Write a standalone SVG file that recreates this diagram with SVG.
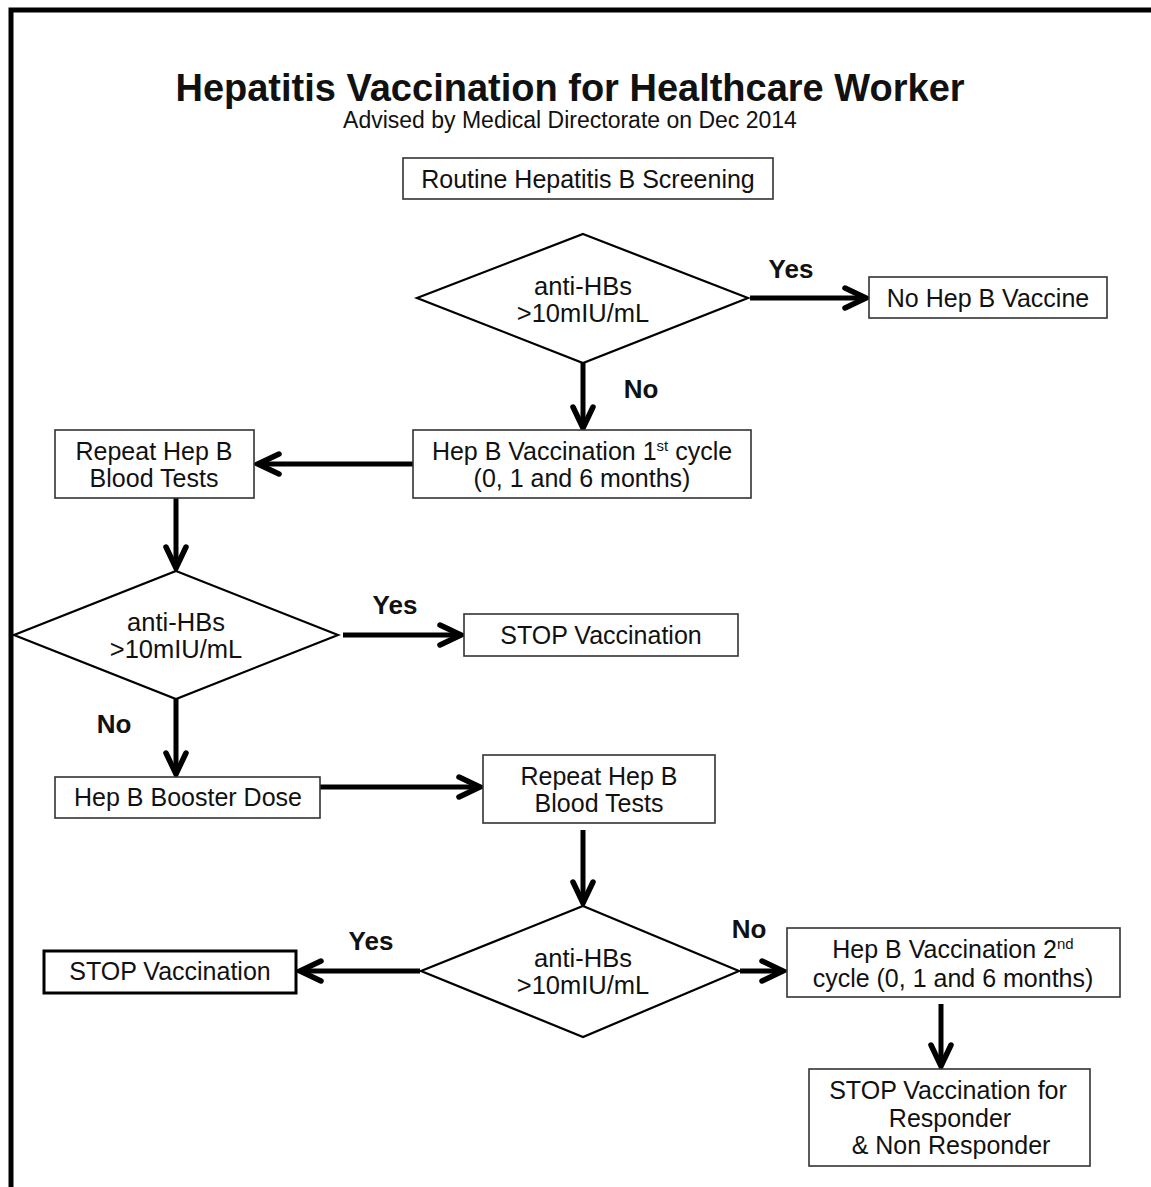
<svg xmlns="http://www.w3.org/2000/svg" width="1151" height="1187" viewBox="0 0 1151 1187">
<defs>
<style>
text{font-family:"Liberation Sans",Arial,sans-serif;fill:#111;text-anchor:middle}
.t{font-size:25px}
.d{font-size:25.5px}
.lbl{font-size:26px;font-weight:bold}
.box{fill:#fff;stroke:#333;stroke-width:1.6}
.dia{fill:#fff;stroke:#000;stroke-width:2.2}
.arr{stroke:#000;stroke-width:5;fill:none;marker-end:url(#ah)}
</style>
<marker id="ah" markerUnits="userSpaceOnUse" markerWidth="40" markerHeight="40" refX="0" refY="0" orient="auto" overflow="visible">
<path d="M-21,-10 L0,0 L-21,10" fill="none" stroke="#000" stroke-width="5.5" stroke-linecap="round" stroke-linejoin="miter"/>
</marker>
</defs>
<rect width="1151" height="1187" fill="#fff"/>
<path d="M11,1187 V10 H1151" fill="none" stroke="#000" stroke-width="5"/>
<g id="title">
<text x="570" y="101" style="font-size:38px;font-weight:bold">Hepatitis Vaccination for Healthcare Worker</text>
<text x="570" y="128" style="font-size:23px">Advised by Medical Directorate on Dec 2014</text>
</g>
<g id="connectors">
<line class="arr" x1="750" y1="298" x2="866" y2="298"/>
<line class="arr" x1="583" y1="363" x2="583" y2="428"/>
<line class="arr" x1="413" y1="464" x2="258" y2="464"/>
<line class="arr" x1="176" y1="498" x2="176" y2="568"/>
<line class="arr" x1="343" y1="635" x2="461" y2="635"/>
<line class="arr" x1="176" y1="699" x2="176" y2="774"/>
<line class="arr" x1="320" y1="787" x2="480" y2="787"/>
<line class="arr" x1="583" y1="830" x2="583" y2="903"/>
<line class="arr" x1="420" y1="971" x2="300" y2="971"/>
<line class="arr" x1="740" y1="971" x2="783" y2="971"/>
<line class="arr" x1="941" y1="1004" x2="941" y2="1066"/>
<text class="lbl" x="791" y="278">Yes</text>
<text class="lbl" x="641" y="398">No</text>
<text class="lbl" x="395" y="614">Yes</text>
<text class="lbl" x="114" y="733">No</text>
<text class="lbl" x="371" y="950">Yes</text>
<text class="lbl" x="749" y="938">No</text>
</g>
<g id="n-routine">
<rect class="box" x="403" y="158" width="370" height="41"/>
<text class="t" x="588" y="188">Routine Hepatitis B Screening</text>
</g>
<g id="n-dec1">
<polygon class="dia" points="583,234 748,298 583,363 417,298"/>
<text class="d" x="583" y="295">anti-HBs</text>
<text class="d" x="583" y="322">&gt;10mIU/mL</text>
</g>
<g id="n-novaccine">
<rect class="box" x="869" y="277" width="238" height="41"/>
<text class="t" x="988" y="307">No Hep B Vaccine</text>
</g>
<g id="n-cycle1">
<rect class="box" x="413" y="430" width="338" height="68"/>
<text class="t" x="582" y="460">Hep B Vaccination 1<tspan style="font-size:15px" dy="-9">st</tspan><tspan dy="9"> cycle</tspan></text>
<text class="t" x="582" y="487">(0, 1 and 6 months)</text>
</g>
<g id="n-repeat1">
<rect class="box" x="55" y="430" width="199" height="68"/>
<text class="t" x="154" y="460">Repeat Hep B</text>
<text class="t" x="154" y="487">Blood Tests</text>
</g>
<g id="n-dec2">
<polygon class="dia" points="176,571 338,635 176,699 14,635"/>
<text class="d" x="176" y="631">anti-HBs</text>
<text class="d" x="176" y="658">&gt;10mIU/mL</text>
</g>
<g id="n-stop1">
<rect class="box" x="464" y="614" width="274" height="42"/>
<text class="t" x="601" y="644">STOP Vaccination</text>
</g>
<g id="n-booster">
<rect class="box" x="55" y="777" width="265" height="41"/>
<text class="t" x="188" y="806">Hep B Booster Dose</text>
</g>
<g id="n-repeat2">
<rect class="box" x="483" y="755" width="232" height="68"/>
<text class="t" x="599" y="785">Repeat Hep B</text>
<text class="t" x="599" y="812">Blood Tests</text>
</g>
<g id="n-dec3">
<polygon class="dia" points="583,906 739,971 583,1037 421,971"/>
<text class="d" x="583" y="967">anti-HBs</text>
<text class="d" x="583" y="994">&gt;10mIU/mL</text>
</g>
<g id="n-stop2">
<rect x="44" y="951" width="252" height="42" fill="#fff" stroke="#000" stroke-width="3"/>
<text class="t" x="170" y="980">STOP Vaccination</text>
</g>
<g id="n-cycle2">
<rect class="box" x="787" y="928" width="333" height="69"/>
<text class="t" x="953" y="958">Hep B Vaccination 2<tspan style="font-size:15px" dy="-9">nd</tspan></text>
<text class="t" x="953" y="987">cycle (0, 1 and 6 months)</text>
</g>
<g id="n-final">
<rect class="box" x="809" y="1069" width="281" height="97"/>
<text class="t" x="948" y="1099">STOP Vaccination for</text>
<text class="t" x="950" y="1127">Responder</text>
<text class="t" x="951" y="1154">&amp; Non Responder</text>
</g>
</svg>
